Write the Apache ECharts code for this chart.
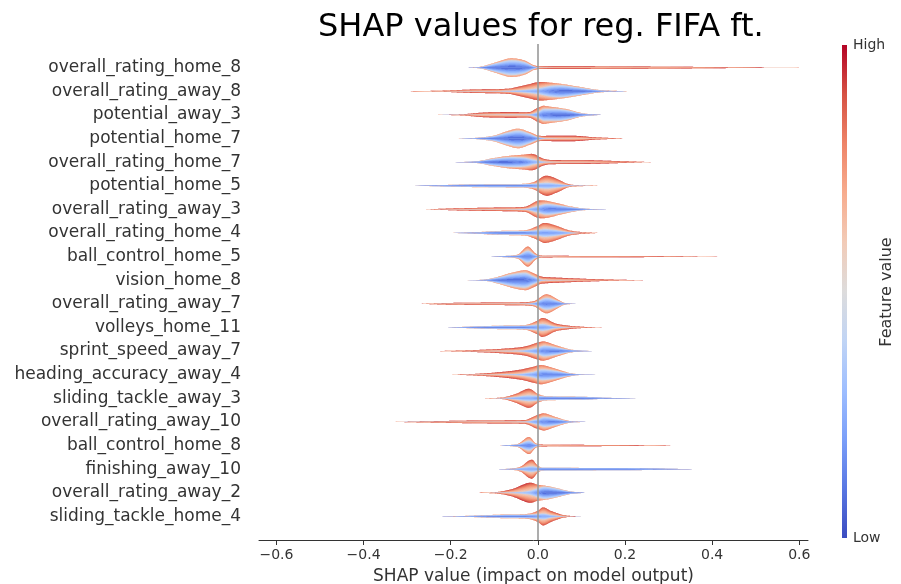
<!DOCTYPE html>
<html>
<head>
<meta charset="utf-8">
<script src="https://cdn.jsdelivr.net/npm/echarts@6/dist/echarts.min.js"></script>
<style>
  html, body { margin: 0; padding: 0; background: #ffffff; }
  #chart { width: 901px; height: 584px; }
</style>
</head>
<body>
<div id="chart"></div>
<script>
// Feature names, top to bottom
const featureNames = [
  'overall_rating_home_8', 'overall_rating_away_8', 'potential_away_3', 'potential_home_7',
  'overall_rating_home_7', 'potential_home_5', 'overall_rating_away_3', 'overall_rating_home_4',
  'ball_control_home_5', 'vision_home_8', 'overall_rating_away_7', 'volleys_home_11',
  'sprint_speed_away_7', 'heading_accuracy_away_4', 'sliding_tackle_away_3', 'overall_rating_away_10',
  'ball_control_home_8', 'finishing_away_10', 'overall_rating_away_2', 'sliding_tackle_home_4'
];
const xTickValues = [-0.6, -0.4, -0.2, 0.0, 0.2, 0.4, 0.6];

// Density profile knots per feature: [SHAP value, density of low feature values, density of high feature values]
const overallRatingHome8 = [[-0.16,0,0],[-0.13,0.8,0.2],[-0.10,4,0.8],[-0.06,7.5,1.8],[-0.03,5.5,1.5],[-0.01,1.5,1],[0.0,0.3,1.2],[0.05,0,1.3],[0.3,0,0.9],[0.45,0,0.45],[0.6,0,0]];
const overallRatingAway8 = [[-0.31,0,0],[-0.22,0.1,0.5],[-0.14,0.2,1.6],[-0.07,0.5,2],[-0.03,1.5,4.5],[0.0,3,6],[0.03,5.5,3],[0.05,6,1.5],[0.09,4,0.8],[0.14,1,0.3],[0.21,0,0]];
const potentialAway3 = [[-0.23,0,0],[-0.17,0.1,0.6],[-0.12,0.2,2.2],[-0.06,0.3,2.5],[-0.02,0.6,2.2],[0.0,3,4],[0.015,6,3],[0.04,6,1.5],[0.07,4.5,0.8],[0.1,1.5,0.3],[0.145,0,0]];
const potentialHome7 = [[-0.19,0,0],[-0.14,0.6,0.1],[-0.10,2.5,0.5],[-0.07,6,1.3],[-0.045,8,1.8],[-0.02,5,1.5],[0.0,1.5,1.5],[0.02,0.3,2.3],[0.08,0.1,2.6],[0.13,0,1.2],[0.2,0,0]];
const overallRatingHome7 = [[-0.19,0,0],[-0.14,0.8,0.1],[-0.10,3.5,0.6],[-0.06,5,1.5],[-0.03,4.5,3],[-0.01,2.5,5.5],[0.01,0.8,3],[0.03,0.3,1.8],[0.1,0.1,1.8],[0.17,0,1.2],[0.26,0,0]];
const potentialHome5 = [[-0.29,0,0],[-0.2,0.8,0.1],[-0.12,1.4,0.2],[-0.04,1.5,0.3],[-0.01,2,1.5],[0.02,3,7],[0.045,2,4.5],[0.07,0.6,1],[0.1,0.2,0.3],[0.145,0,0]];
const overallRatingAway3 = [[-0.26,0,0],[-0.18,0.1,1],[-0.08,0.2,1.6],[-0.03,0.5,2],[0.0,3.5,5],[0.02,5.5,3],[0.05,4,1.5],[0.08,2,0.5],[0.11,0.6,0.1],[0.16,0,0]];
const overallRatingHome4 = [[-0.2,0,0],[-0.15,0.5,0.1],[-0.08,1.8,0.3],[-0.03,2,0.6],[0.0,3,4],[0.015,4,6],[0.04,3,4.5],[0.07,1,1.8],[0.1,0.1,0.8],[0.14,0,0]];
const ballControlHome5 = [[-0.11,0,0],[-0.07,0.7,0.1],[-0.045,1.5,0.8],[-0.023,6,4],[-0.005,1.5,1.5],[0.01,0.1,0.8],[0.2,0,0.6],[0.43,0,0]];
const visionHome8 = [[-0.17,0,0],[-0.12,0.6,0.1],[-0.09,3,0.6],[-0.06,6,1.5],[-0.03,7.5,2.5],[-0.01,4,3],[0.01,0.6,2.8],[0.05,0.2,2.2],[0.12,0,1.2],[0.18,0,0.5],[0.25,0,0]];
const overallRatingAway7 = [[-0.27,0,0],[-0.2,0.1,0.8],[-0.05,0.2,1.2],[-0.01,1,1.5],[0.02,6,3.5],[0.045,3,1.5],[0.06,0.8,0.3],[0.09,0,0]];
const volleysHome11 = [[-0.21,0,0],[-0.15,0.8,0.1],[-0.08,1.6,0.2],[-0.03,1.8,0.5],[0.0,3,4],[0.01,3.5,6],[0.04,1,3],[0.07,0.2,1.5],[0.11,0,0.5],[0.15,0,0]];
const sprintSpeedAway7 = [[-0.23,0,0],[-0.15,0.1,0.8],[-0.08,0.3,2],[-0.03,1,3.5],[0.0,3.5,5],[0.015,5.5,4],[0.04,4,2],[0.07,1.5,0.5],[0.09,0.6,0.1],[0.13,0,0]];
const headingAccuracyAway4 = [[-0.2,0,0],[-0.14,0.1,0.8],[-0.08,0.3,2.5],[-0.04,1,4],[-0.01,3,5],[0.01,5.5,4],[0.04,4,2],[0.07,1.5,0.5],[0.09,0.5,0.1],[0.135,0,0]];
const slidingTackleAway3 = [[-0.13,0,0],[-0.08,0.3,0.6],[-0.05,1.5,3],[-0.02,3,6.5],[0.0,2.5,1.8],[0.02,1.8,0.3],[0.1,1.5,0.1],[0.15,0.6,0],[0.24,0,0]];
const overallRatingAway10 = [[-0.33,0,0],[-0.25,0.1,0.6],[-0.1,0.2,1.3],[-0.03,0.4,1.5],[0.0,3,4],[0.015,5,3.5],[0.04,3.5,1.5],[0.07,0.8,0.3],[0.11,0,0]];
const ballControlHome8 = [[-0.09,0,0],[-0.06,0.6,0.1],[-0.045,1.2,0.5],[-0.02,5,3.5],[-0.005,1.3,1],[0.01,0.1,0.8],[0.2,0,0.5],[0.33,0,0]];
const finishingAway10 = [[-0.09,0,0],[-0.06,0.5,0.2],[-0.04,1.2,1.2],[-0.014,3,6.5],[0.0,1.8,1.5],[0.01,1.4,0.1],[0.2,1.2,0],[0.28,0.6,0],[0.355,0,0]];
const overallRatingAway2 = [[-0.14,0,0],[-0.09,0.2,0.8],[-0.06,0.5,3],[-0.02,2,8],[0.0,4.5,3.5],[0.015,6,1.2],[0.04,4.5,0.6],[0.07,1.5,0.2],[0.11,0,0]];
const slidingTackleHome4 = [[-0.22,0,0],[-0.15,0.6,0.1],[-0.08,1.5,0.3],[-0.03,1.7,0.5],[0.0,2.5,3],[0.012,3,6],[0.03,1.5,4],[0.06,0.2,1],[0.1,0,0]];

const featureDensities = [
  overallRatingHome8, overallRatingAway8, potentialAway3, potentialHome7,
  overallRatingHome7, potentialHome5, overallRatingAway3, overallRatingHome4,
  ballControlHome5, visionHome8, overallRatingAway7, volleysHome11,
  sprintSpeedAway7, headingAccuracyAway4, slidingTackleAway3, overallRatingAway10,
  ballControlHome8, finishingAway10, overallRatingAway2, slidingTackleHome4
];

// coolwarm colour map stops
const coolwarm = ['#3b4cc0','#5977e3','#7b9ff9','#9ebeff','#c0d4f5','#dddcdc','#f2cbb7','#f7ac8e','#ee8468','#d65244','#b40426'];
function hexToRgb(h) { return [1, 3, 5].map(k => parseInt(h.substr(k, 2), 16)); }
const coolwarmRgb = coolwarm.map(hexToRgb);
function coolwarmAt(t) {
  const p = Math.max(0, Math.min(1, t)) * (coolwarmRgb.length - 1);
  const a = Math.floor(p), b = Math.min(a + 1, coolwarmRgb.length - 1), f = p - a;
  const c = coolwarmRgb[a].map((v, k) => Math.round(v + (coolwarmRgb[b][k] - v) * f));
  return 'rgb(' + c.join(',') + ')';
}

// Monotone cubic (Fritsch-Carlson) resampling of a knot column
function monotone(xs, ys) {
  const n = xs.length, d = [], m = new Array(n).fill(0);
  for (let k = 0; k < n - 1; k++) d.push((ys[k + 1] - ys[k]) / (xs[k + 1] - xs[k]));
  m[0] = d[0]; m[n - 1] = d[n - 2];
  for (let k = 1; k < n - 1; k++) m[k] = (d[k - 1] * d[k] <= 0) ? 0 : (d[k - 1] + d[k]) / 2;
  for (let k = 0; k < n - 1; k++) {
    if (d[k] === 0) { m[k] = 0; m[k + 1] = 0; continue; }
    const a = m[k] / d[k], b = m[k + 1] / d[k], s = a * a + b * b;
    if (s > 9) { const t = 3 / Math.sqrt(s); m[k] = t * a * d[k]; m[k + 1] = t * b * d[k]; }
  }
  return function (x) {
    let k = 0;
    while (k < n - 2 && x > xs[k + 1]) k++;
    const h = xs[k + 1] - xs[k], t = (x - xs[k]) / h;
    const h00 = 2*t*t*t - 3*t*t + 1, h10 = t*t*t - 2*t*t + t, h01 = -2*t*t*t + 3*t*t, h11 = t*t*t - t*t;
    return Math.max(0, h00 * ys[k] + h10 * h * m[k] + h01 * ys[k + 1] + h11 * h * m[k + 1]);
  };
}

const LAYERS = 24;
const DENSITY_TO_ROW = 1 / 23.6;

// Pre-sample each profile on a fine grid
const sampled = featureDensities.map(knots => {
  const xs = knots.map(k => k[0]);
  const lo = monotone(xs, knots.map(k => k[1]));
  const hi = monotone(xs, knots.map(k => k[2]));
  const pts = [];
  const x0 = xs[0], x1 = xs[xs.length - 1];
  const steps = Math.max(40, Math.round((x1 - x0) / 0.0025));
  for (let s = 0; s <= steps; s++) {
    const x = x0 + (x1 - x0) * s / steps;
    pts.push([x, lo(x), hi(x)]);
  }
  return pts;
});

// Radius (in density units) inside which the colour level is at most c.
// The colour range reached on each side follows the local share of low / high values.
function boundary(c, lo, hi) {
  const tot = lo + hi;
  if (tot <= 0) return 0;
  const cMin = 0.5 - 0.5 * Math.sqrt(lo / tot);
  const cMax = 0.5 + 0.5 * Math.sqrt(hi / tot);
  if (c <= 0.5) {
    if (c <= cMin) return 0;
    return lo * Math.pow((c - cMin) / (0.5 - cMin), 0.6);
  }
  if (c >= cMax) return tot;
  return lo + hi * (c - 0.5) / (cMax - 0.5);
}

function renderViolin(params, api) {
  const row = api.value(1);
  const pts = sampled[row];
  const rowPx = Math.abs(api.size([0, 1])[1]);
  const scale = DENSITY_TO_ROW * rowPx;
  const centres = pts.map(p => api.coord([p[0], row]));
  const radii = pts.map(([v, lo, hi]) => {
    const r = [0];
    for (let k = 1; k <= LAYERS; k++) r.push(boundary(k / LAYERS, lo, hi) * scale);
    return r;
  });
  const children = [];
  // underlay: a few nested shapes so that seams between bands show a matching colour
  [LAYERS, LAYERS / 2].forEach(k => {
    const top = [], bottom = [];
    for (let j = 0; j < pts.length; j++) {
      top.push([centres[j][0], centres[j][1] - radii[j][k]]);
      bottom.push([centres[j][0], centres[j][1] + radii[j][k]]);
    }
    children.push({
      type: 'polygon',
      shape: { points: top.concat(bottom.reverse()) },
      style: { fill: coolwarmAt(k === LAYERS ? 0.75 : 0.3), stroke: null }
    });
  });
  // colour bands: each ring spans the radii of two neighbouring colour levels
  for (let k = 1; k <= LAYERS; k++) {
    const fill = coolwarmAt(k / LAYERS);
    for (const sign of [-1, 1]) {
      const outer = [], inner = [];
      let any = false;
      for (let j = 0; j < pts.length; j++) {
        const ro = radii[j][k], ri = radii[j][k - 1];
        if (ro - ri > 1e-4) any = true;
        outer.push([centres[j][0], centres[j][1] + sign * ro]);
        inner.push([centres[j][0], centres[j][1] + sign * ri]);
      }
      if (!any) continue;
      children.push({
        type: 'polygon',
        shape: { points: outer.concat(inner.reverse()) },
        style: { fill, stroke: null }
      });
    }
  }
  return { type: 'group', children };
}

const FONT = 'DejaVu Sans';
const chart = echarts.init(document.getElementById('chart'), null, { renderer: 'canvas' });
chart.setOption({
  animation: false,
  backgroundColor: '#ffffff',
  title: {
    text: 'SHAP values for reg. FIFA ft.',
    left: 313, top: 7,
    textStyle: { fontFamily: FONT, fontSize: 32, fontWeight: 'normal', color: '#000000' }
  },
  grid: { left: 259, right: 93, top: 44, bottom: 44, outerBoundsMode: 'none', containLabel: false },
  xAxis: {
    type: 'value', min: -0.64, max: 0.62,
    name: 'SHAP value (impact on model output)',
    nameLocation: 'middle', nameGap: 28,
    nameTextStyle: { fontFamily: FONT, fontSize: 17, color: '#333333' },
    axisLine: { show: true, onZero: false, lineStyle: { color: '#333333', width: 1 } },
    axisTick: { show: true, length: 5, customValues: xTickValues, lineStyle: { color: '#333333' } },
    axisLabel: {
      customValues: xTickValues, margin: 8,
      fontFamily: FONT, fontSize: 14, color: '#333333',
      formatter: v => v.toFixed(1).replace('-', '\u2212')
    },
    splitLine: { show: false }
  },
  yAxis: {
    type: 'value', inverse: true, min: -1, max: 20, interval: 1,
    axisLine: { show: false }, axisTick: { show: false }, splitLine: { show: false },
    axisLabel: {
      margin: 18, fontFamily: FONT, fontSize: 17, color: '#333333',
      formatter: v => featureNames[Math.round(v)] || ''
    }
  },
  series: [{
    type: 'custom',
    renderItem: renderViolin,
    data: featureNames.map((_, i) => [0, i]),
    encode: { x: 0, y: 1 },
    silent: true,
    markLine: {
      silent: true, symbol: 'none', animation: false,
      label: { show: false },
      lineStyle: { color: '#999999', width: 1.6, type: 'solid' },
      data: [{ xAxis: 0 }]
    }
  }],
  graphic: [
    {
      type: 'rect', left: 842, top: 45,
      shape: { width: 5, height: 493 },
      style: {
        fill: new echarts.graphic.LinearGradient(0, 1, 0, 0,
          coolwarm.map((c, k) => ({ offset: k / (coolwarm.length - 1), color: c })))
      }
    },
    { type: 'text', left: 853, top: 38, style: { text: 'High', fontFamily: FONT, fontSize: 14, fill: '#333333' } },
    { type: 'text', left: 853, top: 531, style: { text: 'Low', fontFamily: FONT, fontSize: 14, fill: '#333333' } },
    {
      type: 'text', x: 887, y: 292, rotation: Math.PI / 2,
      style: { text: 'Feature value', fontFamily: FONT, fontSize: 16, fill: '#333333', align: 'center', verticalAlign: 'middle' }
    }
  ]
});
</script>
</body>
</html>
